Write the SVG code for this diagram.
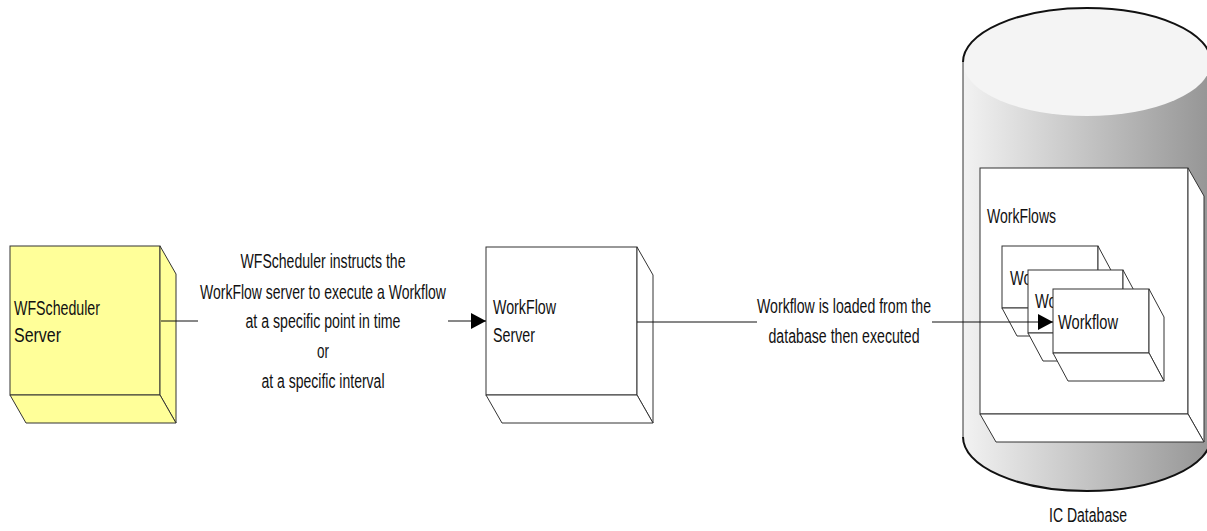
<svg xmlns="http://www.w3.org/2000/svg" width="1207" height="531" viewBox="0 0 1207 531">
<style>
.box{fill:#ffffff;stroke:#333333;stroke-width:1}
.yel{fill:#ffff99;stroke:#333333;stroke-width:1}
.t{font-family:"Liberation Sans",Arial,sans-serif;font-size:20px;fill:#111111}
.c{text-anchor:middle}
.conn{fill:none;stroke:#111111;stroke-width:1}
.outline{fill:none;stroke:#111111;stroke-width:2}
</style>
<defs>
<linearGradient id="cylGrad" x1="0" y1="0" x2="1" y2="0">
<stop offset="0" stop-color="#f2f2f2"/>
<stop offset="1" stop-color="#959595"/>
</linearGradient>
<marker id="arrow" markerUnits="userSpaceOnUse" markerWidth="15" markerHeight="16" refX="15" refY="8" orient="auto">
<path d="M0,0 L15,8 L0,16 Z" fill="#000000"/>
</marker>
</defs>

<g id="wfscheduler-server">
<rect class="yel" x="10" y="246" width="150" height="149"/>
<polygon class="yel" points="160,246 176,274 176,423 160,395"/>
<polygon class="yel" points="10,395 160,395 176,423 26,423"/>
<text class="t" x="14" y="315" textLength="86" lengthAdjust="spacingAndGlyphs">WFScheduler</text>
<text class="t" x="14" y="342" textLength="47" lengthAdjust="spacingAndGlyphs">Server</text>
</g>

<g id="workflow-server">
<rect class="box" x="486" y="247" width="151" height="148"/>
<polygon class="box" points="637,247 653,275 653,423 637,395"/>
<polygon class="box" points="486,395 637,395 653,423 502,423"/>
<text class="t" x="493" y="314" textLength="63" lengthAdjust="spacingAndGlyphs">WorkFlow</text>
<text class="t" x="493" y="342" textLength="42" lengthAdjust="spacingAndGlyphs">Server</text>
</g>

<g id="ic-database">
<path d="M963,62 L963,437 A124,54 0 0 0 1211,437 L1211,62 Z" fill="url(#cylGrad)"/>
<ellipse cx="1087" cy="62" rx="124" ry="54" fill="#f4f4f4"/>
<path d="M963,62 A124,54 0 0 1 1211,62" class="outline"/>
<path d="M963,62 L963,437" fill="none" stroke="#333333" stroke-width="1"/>
<path d="M963,437 A124,54 0 0 0 1211,437" class="outline"/>
<text class="t" x="1049" y="522" textLength="78" lengthAdjust="spacingAndGlyphs">IC Database</text>

<g id="workflows-container">
<rect class="box" x="980" y="168" width="208" height="246"/>
<polygon class="box" points="1188,168 1204,196 1204,442 1188,414"/>
<polygon class="box" points="980,414 1188,414 1204,442 996,442"/>
<text class="t" x="987" y="223" textLength="69" lengthAdjust="spacingAndGlyphs">WorkFlows</text>

<g id="workflow-1">
<rect class="box" x="1002" y="246" width="96" height="62"/>
<polygon class="box" points="1098,246 1113,274 1113,336 1098,308"/>
<polygon class="box" points="1002,308 1098,308 1113,336 1017,336"/>
<text class="t" x="1010" y="285" textLength="60" lengthAdjust="spacingAndGlyphs">Workflow</text>
</g>
<g id="workflow-2">
<rect class="box" x="1028" y="270" width="95" height="63"/>
<polygon class="box" points="1123,270 1138,298 1138,361 1123,333"/>
<polygon class="box" points="1028,333 1123,333 1138,361 1043,361"/>
<text class="t" x="1035" y="308" textLength="60" lengthAdjust="spacingAndGlyphs">Workflow</text>
</g>
<g id="workflow-3">
<rect class="box" x="1053" y="289" width="96" height="64"/>
<polygon class="box" points="1149,289 1164,317 1164,381 1149,353"/>
<polygon class="box" points="1053,353 1149,353 1164,381 1068,381"/>
<text class="t" x="1058" y="329" textLength="60" lengthAdjust="spacingAndGlyphs">Workflow</text>
</g>
</g>
</g>

<g id="connectors">
<path class="conn" d="M161,321 H198 M448,321 H486" marker-end="url(#arrow)"/>
<g id="label-1">
<text class="t c" x="323" y="268" textLength="165" lengthAdjust="spacingAndGlyphs">WFScheduler instructs the</text>
<text class="t c" transform="translate(323,299) scale(0.70,1)" x="0" y="0">WorkFlow server to execute a Workflow</text>
<text class="t c" x="323" y="328" textLength="155" lengthAdjust="spacingAndGlyphs">at a specific point in time</text>
<text class="t c" x="323" y="358" textLength="12" lengthAdjust="spacingAndGlyphs">or</text>
<text class="t c" x="323" y="388" textLength="123" lengthAdjust="spacingAndGlyphs">at a specific interval</text>
</g>
<path class="conn" d="M637,322 H757 M932,322 H1053" marker-end="url(#arrow)"/>
<g id="label-2">
<text class="t c" x="844" y="313" textLength="174" lengthAdjust="spacingAndGlyphs">Workflow is loaded from the</text>
<text class="t c" x="844" y="343" textLength="151" lengthAdjust="spacingAndGlyphs">database then executed</text>
</g>
</g>
</svg>
